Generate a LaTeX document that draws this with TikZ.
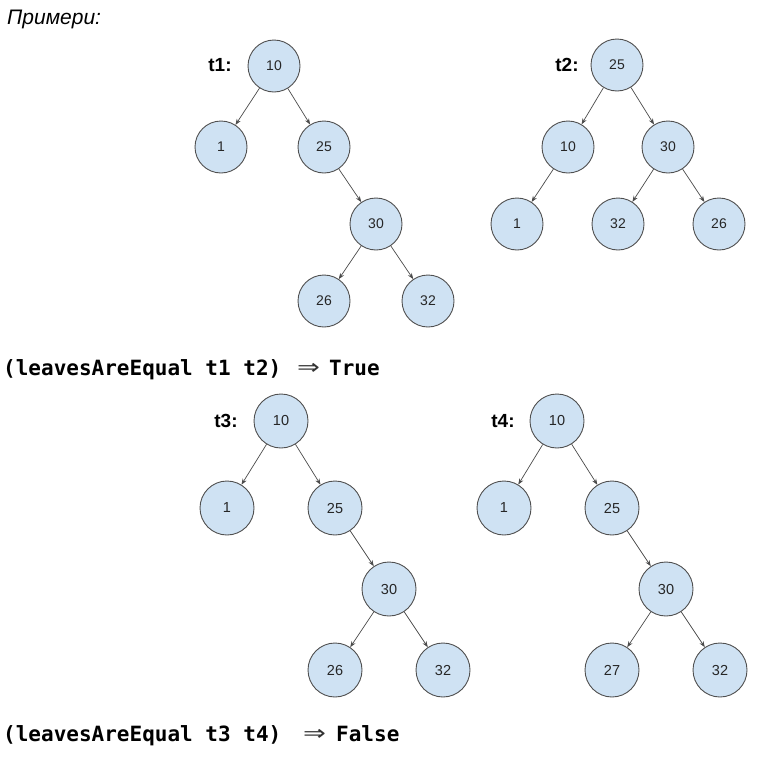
\documentclass[tikz,border=0pt]{standalone}
\usepackage{fontspec}
\usepackage{graphicx}
\setmainfont{Liberation Sans}
\newfontfamily\monob{DejaVu Sans Mono}
\newfontfamily\djv{DejaVu Sans}
\usetikzlibrary{arrows.meta}
\definecolor{nodefill}{HTML}{CFE2F3}
\definecolor{nodeline}{HTML}{505050}
\definecolor{edgecol}{HTML}{4A4A4A}
\begin{document}
\begin{tikzpicture}[x=1pt,y=-1pt,
  tn/.style={circle,draw=nodeline,fill=nodefill,line width=0.9pt,minimum size=52pt,inner sep=0pt,font=\fontsize{14}{14}\selectfont,text=black!85},
  tnb/.style={tn,minimum size=54pt,font=\fontsize{14.5}{14.5}\selectfont},
  tlab/.style={font=\bfseries\fontsize{19}{19}\selectfont,inner sep=0pt},
  edge/.style={draw=edgecol,line width=0.7pt,-{Stealth[length=6pt,width=4.5pt]}},
  res/.style={anchor=base west,inner sep=0pt,font=\monob\bfseries\fontsize{21}{21}\selectfont},
  arr/.style={anchor=base west,inner sep=0pt,font=\djv\fontsize{21}{21}\selectfont,text=black!80}]
\useasboundingbox (0,0) rectangle (771,758);
\node[anchor=base west,inner sep=0pt,font=\itshape\fontsize{21}{21}\selectfont] (title) at (7,24) {Примери:};
% t1
\node[tlab] (l1) at (220,65) {t1:};
\node[tn] (p10) at (274,66) {10};
\node[tn] (p1) at (221,147) {1};
\node[tn] (p25) at (324,147) {25};
\node[tn] (p30) at (376,224) {30};
\node[tn] (p26) at (324,301) {26};
\node[tn] (p32) at (428,301) {32};
\draw[edge] (p10) -- (p1);
\draw[edge] (p10) -- (p25);
\draw[edge] (p25) -- (p30);
\draw[edge] (p30) -- (p26);
\draw[edge] (p30) -- (p32);
% t2
\node[tlab] (l2) at (567,65) {t2:};
\node[tn] (q25) at (617,65) {25};
\node[tn] (q10) at (568,147) {10};
\node[tn] (q30) at (668,147) {30};
\node[tn] (q1) at (517,224) {1};
\node[tn] (q32) at (618,224) {32};
\node[tn] (q26) at (719,224) {26};
\draw[edge] (q25) -- (q10);
\draw[edge] (q25) -- (q30);
\draw[edge] (q10) -- (q1);
\draw[edge] (q30) -- (q32);
\draw[edge] (q30) -- (q26);
% result 1
\node[res] (res1) at (3,375) {(leavesAreEqual t1 t2)};
\node[arr] (ar1) at (297,374) {\scalebox{1.3}[1]{⇒}};
\node[res] (tr) at (329,375) {True};
% t3
\node[tlab] (l3) at (226,421) {t3:};
\node[tnb] (r10) at (281,421) {10};
\node[tnb] (r1) at (227,508) {1};
\node[tnb] (r25) at (335,508) {25};
\node[tnb] (r30) at (389,589) {30};
\node[tnb] (r26) at (335,670) {26};
\node[tnb] (r32) at (443,670) {32};
\draw[edge] (r10) -- (r1);
\draw[edge] (r10) -- (r25);
\draw[edge] (r25) -- (r30);
\draw[edge] (r30) -- (r26);
\draw[edge] (r30) -- (r32);
% t4
\node[tlab] (l4) at (503,421) {t4:};
\node[tnb] (s10) at (557,421) {10};
\node[tnb] (s1) at (504,508) {1};
\node[tnb] (s25) at (612,508) {25};
\node[tnb] (s30) at (666,589) {30};
\node[tnb] (s27) at (612,670) {27};
\node[tnb] (s32) at (720,670) {32};
\draw[edge] (s10) -- (s1);
\draw[edge] (s10) -- (s25);
\draw[edge] (s25) -- (s30);
\draw[edge] (s30) -- (s27);
\draw[edge] (s30) -- (s32);
% result 2
\node[res] (res2) at (3,741) {(leavesAreEqual t3 t4)};
\node[arr] (ar2) at (303,740) {\scalebox{1.3}[1]{⇒}};
\node[res] (fa) at (336,741) {False};
\end{tikzpicture}
\end{document}
